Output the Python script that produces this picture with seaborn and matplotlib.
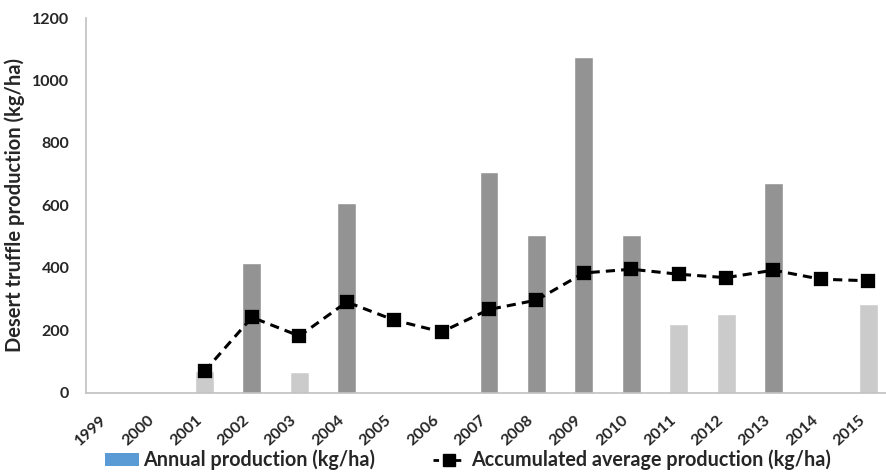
import matplotlib
matplotlib.use("Agg")
import matplotlib.pyplot as plt
from matplotlib.patches import Patch
from matplotlib.lines import Line2D
from matplotlib.font_manager import FontProperties
import numpy as np
import pandas as pd
import seaborn as sns

years = [str(y) for y in range(1999, 2016)]
annual = [0, 0, 68, 415, 65, 607, 0, 0, 705, 505, 1074, 505, 218, 253, 671, 0, 282]
accum_avg = [np.nan, np.nan, 68, 241, 181, 290, 232, 194, 266, 296, 383, 395, 379, 368, 392, 363, 358]
year_class = ["low", "low", "low", "high", "low", "high", "low", "low", "high", "high",
              "high", "high", "low", "low", "high", "low", "low"]

df = pd.DataFrame({"year": years, "annual": annual, "avg": accum_avg, "cls": year_class})

sns.set_theme(style="white")
plt.rcParams["font.family"] = ["Lato", "DejaVu Sans"]

fig = plt.figure(figsize=(8.87, 4.73), dpi=100)
ax = fig.add_axes([86 / 887, (473 - 392.5) / 473, 806 / 887, 374.5 / 473])

sns.barplot(data=df, x="year", y="annual", hue="cls", order=years,
            palette={"high": "#939393", "low": "#cbcbcb"}, dodge=False,
            width=0.4, legend=False, ax=ax, saturation=1)

sns.pointplot(data=df, x="year", y="avg", order=years, color="black",
              markers="s", linestyles="--", markersize=8, linewidth=2.2,
              errorbar=None, ax=ax)
for ln in ax.lines:
    ln.set_dashes((3, 2))
    ln.set_markerfacecolor("black")
    ln.set_markeredgecolor("black")

ax.set_ylim(0, 1200)
ax.set_xlim(-0.5, 16.5)
ax.set_yticks(range(0, 1201, 200))
ax.set_xlabel("")
ax.set_ylabel("Desert truffle production (kg/ha)", fontsize=14.5, fontweight="bold")
ax.yaxis.set_label_coords(-0.076, 0.5)
ax.tick_params(axis="y", length=0, pad=12, labelsize=11.5)
ax.tick_params(axis="x", length=0, pad=15, labelsize=11.5)
plt.setp(ax.get_yticklabels(), fontweight="bold")
plt.setp(ax.get_xticklabels(), fontweight="bold", rotation=42, ha="right", va="top")

for side in ["top", "right"]:
    ax.spines[side].set_visible(False)
for side in ["left", "bottom"]:
    ax.spines[side].set_color("#c0c0c0")
    ax.spines[side].set_linewidth(1.2)

handles = [
    Patch(facecolor="#5b9bd5", edgecolor="none"),
    Line2D([0], [0], color="black", linestyle=(0, (2, 2)), linewidth=2, marker="s", markersize=8),
]
legend_font = FontProperties(family=["Lato", "DejaVu Sans"], weight="bold", size=14.2)
fig.legend(handles, ["Annual production (kg/ha)", "Accumulated average production (kg/ha)"],
           loc="center left", bbox_to_anchor=(105 / 887, 1 - 460 / 473), ncol=2,
           frameon=False, borderpad=0, borderaxespad=0,
           handlelength=1.7, handleheight=0.6, handletextpad=0.25, columnspacing=2.9,
           prop=legend_font)

fig.savefig("out.png", dpi=100)
